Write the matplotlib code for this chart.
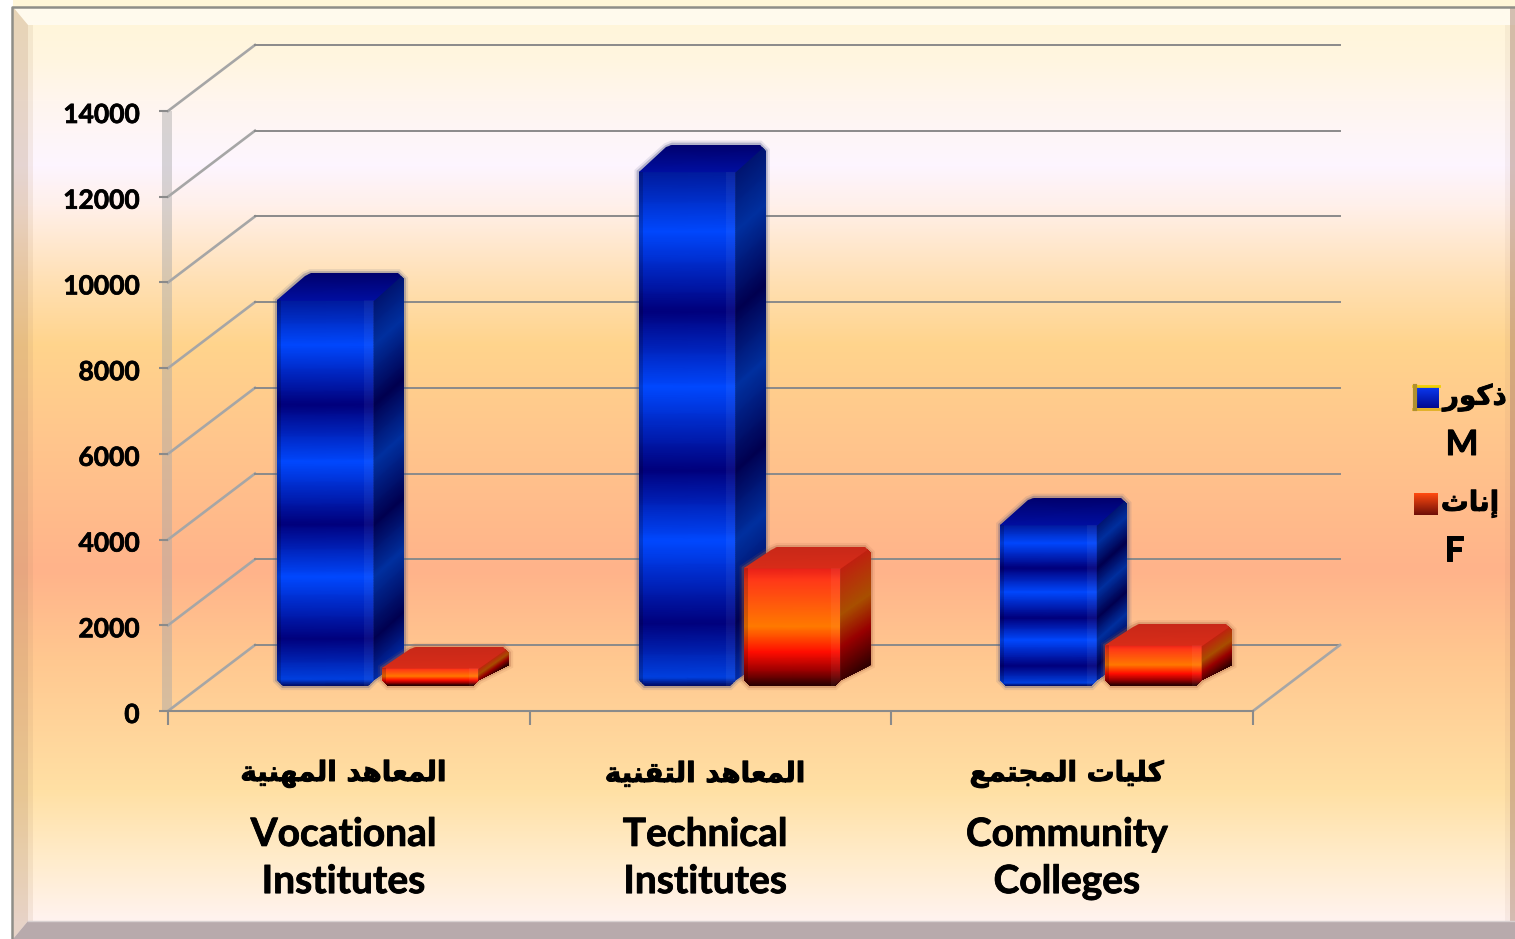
import numpy as np
import matplotlib
matplotlib.use('Agg')
import matplotlib.pyplot as plt
import matplotlib.patheffects as pe
from matplotlib.colors import LinearSegmentedColormap, to_rgb
from matplotlib.patches import Polygon
from matplotlib.transforms import ScaledTranslation

W, H = 1515, 939

# data
categories_ar = ['المعاهد المهنية', 'المعاهد التقنية', 'كليات المجتمع']
categories_en = ['Vocational\nInstitutes', 'Technical\nInstitutes', 'Community\nColleges']
males = [9000, 12000, 3760]
females = [420, 2750, 950]
y_ticks = [0, 2000, 4000, 6000, 8000, 10000, 12000, 14000]
legend_ar = ['ذكور', 'إناث']
legend_en = ['M', 'F']

# matplotlib does no arabic shaping, so pick the presentation forms by hand
FORMS = {
    'ا': (0xFE8D, 0xFE8E), 'إ': (0xFE87, 0xFE88), 'د': (0xFEA9, 0xFEAA),
    'ذ': (0xFEAB, 0xFEAC), 'ر': (0xFEAD, 0xFEAE), 'و': (0xFEED, 0xFEEE),
    'ة': (0xFE93, 0xFE94),
    'ت': (0xFE95, 0xFE96, 0xFE97, 0xFE98), 'ث': (0xFE99, 0xFE9A, 0xFE9B, 0xFE9C),
    'ج': (0xFE9D, 0xFE9E, 0xFE9F, 0xFEA0), 'ع': (0xFEC9, 0xFECA, 0xFECB, 0xFECC),
    'ق': (0xFED5, 0xFED6, 0xFED7, 0xFED8), 'ك': (0xFED9, 0xFEDA, 0xFEDB, 0xFEDC),
    'ل': (0xFEDD, 0xFEDE, 0xFEDF, 0xFEE0), 'م': (0xFEE1, 0xFEE2, 0xFEE3, 0xFEE4),
    'ن': (0xFEE5, 0xFEE6, 0xFEE7, 0xFEE8), 'ه': (0xFEE9, 0xFEEA, 0xFEEB, 0xFEEC),
    'ي': (0xFEF1, 0xFEF2, 0xFEF3, 0xFEF4),
}


def shape(text):
    out = []
    for i, c in enumerate(text):
        if c not in FORMS:
            out.append(c)
            continue
        prev = text[i - 1] if i > 0 else ' '
        nxt = text[i + 1] if i + 1 < len(text) else ' '
        from_right = prev in FORMS and len(FORMS[prev]) == 4
        to_left = nxt in FORMS and len(FORMS[c]) == 4
        if from_right and to_left:
            code = FORMS[c][3]
        elif from_right:
            code = FORMS[c][1]
        elif to_left:
            code = FORMS[c][2]
        else:
            code = FORMS[c][0]
        out.append(chr(code))
    return ''.join(out)[::-1]


def gradient(stops, n=H):
    pos = [s[0] for s in stops]
    cols = np.array([to_rgb(s[1]) for s in stops])
    ys = np.arange(n)
    return np.stack([np.interp(ys, pos, cols[:, k]) for k in range(3)], axis=1)


def heavy(width=0.5):
    return [pe.withStroke(linewidth=width, foreground='black')]


fig = plt.figure(figsize=(W / 100, H / 100), dpi=100, facecolor='white')

# background panel, in pixel coordinates
bg = fig.add_axes([0, 0, 1, 1])
bg.set_xlim(0, W)
bg.set_ylim(H, 0)
bg.axis('off')
grad = gradient([(7, '#fff6d8'), (60, '#fff5e0'), (100, '#fff6ee'), (165, '#fdf5ff'),
                 (205, '#fff0ea'), (280, '#ffe0b4'), (345, '#ffd48c'), (450, '#ffc48c'),
                 (570, '#ffb38a'), (660, '#ffc890'), (790, '#ffe0a4'), (860, '#ffeccc'),
                 (921, '#fff3f0')])
bg.imshow(grad[:, None, :], extent=[13, W, H, 0], aspect='auto', zorder=0)
bg.set_xlim(0, W)
bg.set_ylim(H, 0)
bg.add_patch(Polygon([(13, 7), (W, 7), (W, 25), (28, 25)], fc='#ffffff', alpha=0.55, ec='none', zorder=1))
bg.add_patch(Polygon([(13, 7), (28, 25), (28, 921), (13, 939)], fc='#b08a6a', alpha=0.3, ec='none', zorder=1))
bg.add_patch(Polygon([(28, 25), (33, 25), (33, 921), (28, 921)], fc='#b08a6a', alpha=0.13, ec='none', zorder=1))
bg.add_patch(Polygon([(1510, 7), (W, 7), (W, 921), (1510, 921)], fc='#a07868', alpha=0.45, ec='none', zorder=1))
bg.add_patch(Polygon([(1505, 25), (1510, 25), (1510, 921), (1505, 921)], fc='#a07868', alpha=0.08, ec='none', zorder=1))
bg.add_patch(Polygon([(28, 921), (W, 921), (W, 939), (13, 939)], fc='#b8aaac', ec='none', zorder=2))
bg.plot([28, W], [921, 921], color='#d8d0d0', lw=1, zorder=2)
bg.plot([12, 12, W], [H, 6.5, 6.5], color='#8e8e88', lw=1.8, zorder=3)

# the chart itself, axes box = front plane of the 3D box
ax = fig.add_axes([168 / W, 1 - 711 / H, 1085 / W, 600 / H])
ax.patch.set_alpha(0)
PX_X = 1085 / 3
PX_Y = 600 / 14000
WALL_DX = 87 / PX_X
WALL_DY = 66 / PX_Y
BASE_DY = 25 / PX_Y
BAR_W = 97 / PX_X
BAR_DX = 30 / PX_X
BLUE_DY = 27 / PX_Y
RED_DY = 21 / PX_Y
BLUE_X = 109 / PX_X
RED_X = 214 / PX_X

GRID = '#8a8a8a'
SLANT = '#a6a6a6'
for v in y_ticks:
    ax.plot([0, WALL_DX], [v, v + WALL_DY], color=SLANT, lw=1.9, clip_on=False, zorder=1)
    ax.plot([WALL_DX, 3 + WALL_DX], [v + WALL_DY, v + WALL_DY], color=GRID, lw=1.4, clip_on=False, zorder=1)
ax.plot([3, 3 + WALL_DX], [0, WALL_DY], color=SLANT, lw=1.9, clip_on=False, zorder=1)
# thin left wall
ax.fill_betweenx([0, 14000], -6 / PX_X, 4 / PX_X, color='#a8a8a8', alpha=0.45, lw=0, clip_on=False, zorder=1)

blue_front = LinearSegmentedColormap.from_list('bf', [
    (0, '#001a9c'), (.115, '#0048ff'), (.27, '#00007c'), (.42, '#0048ff'), (.58, '#00007c'),
    (.72, '#0048ff'), (.88, '#00007c'), (.985, '#0040e0'), (1, '#000a60')])
blue_side = LinearSegmentedColormap.from_list('bs', [
    (0, '#001470'), (.115, '#0030a0'), (.27, '#000050'), (.42, '#0030a0'), (.58, '#000050'),
    (.72, '#0030a0'), (.88, '#000050'), (1, '#0030b0')])
blue_top = LinearSegmentedColormap.from_list('bt', ['#000ea0', '#00006c'])
red_front = LinearSegmentedColormap.from_list('rf', [
    (0, '#e82018'), (.1, '#ff3818'), (.5, '#ff7a00'), (.72, '#ff0c00'), (.87, '#a00000'), (1, '#2c0000')])
red_side = LinearSegmentedColormap.from_list('rs', [
    (0, '#c02010'), (.4, '#a85000'), (.68, '#980000'), (1, '#300000')])
red_top = LinearSegmentedColormap.from_list('rt', ['#d82c18', '#c82818'])


def draw_bar(left, value, front, side, top, halo, dy, z):
    x0, x1 = left, left + BAR_W
    y0, y1 = BASE_DY, BASE_DY + value
    dx = BAR_DX
    cx, cy = 6 / PX_X, 6 / PX_Y
    outline = [(x0 + cx, y0), (x1 - cx, y0), (x1, y0 + cy), (x1 + dx, y0 + dy), (x1 + dx, y1 + dy - cy),
               (x1 + dx - cx, y1 + dy), (x0 + dx + cx * 0.6, y1 + dy), (x0 + dx - cx * 0.4, y1 + dy - cy * 0.4),
               (x0, y1), (x0, y0 + cy)]
    ax.add_patch(Polygon(outline, fc='none', ec=halo, lw=6, alpha=0.12, zorder=z))
    ax.add_patch(Polygon(outline, fc='none', ec=halo, lw=3, alpha=0.3, zorder=z))

    t = np.linspace(0, 1, 240)[:, None]
    # front face
    X = np.array([[x0, x1]] * 240)
    Y = y1 - t * value * np.ones((1, 2))
    clip = Polygon([(x0, y1), (x1, y1), (x1, y0 + cy), (x1 - cx, y0), (x0 + cx, y0), (x0, y0 + cy)],
                   transform=ax.transData)
    m = ax.pcolormesh(X, Y, t * np.ones((1, 2)), cmap=front, vmin=0, vmax=1, shading='gouraud', zorder=z + 1)
    m.set_clip_path(clip)
    # side face, same bands pushed back
    X = x1 + np.array([[0, dx]] * 240)
    Y = y1 - t * value + np.array([[0, dy]])
    m = ax.pcolormesh(X, Y, t * np.ones((1, 2)), cmap=side, vmin=0, vmax=1, shading='gouraud', zorder=z + 1)
    m.set_clip_path(Polygon(outline, transform=ax.transData))
    # top face
    u = np.array([[0.0], [1.0]])
    X = np.array([[x0, x1], [x0 + dx, x1 + dx]])
    Y = np.array([[y1, y1], [y1 + dy, y1 + dy]])
    m = ax.pcolormesh(X, Y, u * np.ones((1, 2)), cmap=top, vmin=0, vmax=1, shading='gouraud', zorder=z + 1)
    m.set_clip_path(Polygon(outline, transform=ax.transData))
    # lighter strip at the right of the front, darker at the left
    strip = ax.fill_between([x1 - 10 / PX_X, x1], y0, y1, color='white', alpha=0.05, lw=0, zorder=z + 2)
    strip.set_clip_path(clip)
    strip = ax.fill_between([x0, x0 + 4 / PX_X], y0, y1, color='black', alpha=0.18, lw=0, zorder=z + 2)
    strip.set_clip_path(clip)


for i in range(3):
    draw_bar(i + BLUE_X, males[i], blue_front, blue_side, blue_top, '#404c80', BLUE_DY, 3 + 4 * i)
    draw_bar(i + RED_X, females[i], red_front, red_side, red_top, '#a86040', RED_DY, 5 + 4 * i)

ax.set_xlim(0, 3)
ax.set_ylim(0, 14000)
for s in ['top', 'right', 'left']:
    ax.spines[s].set_visible(False)
ax.spines['bottom'].set_color(GRID)
ax.spines['bottom'].set_linewidth(1.5)
ax.spines['bottom'].set_zorder(2)
ax.set_xticks([0, 1, 2, 3])
ax.set_xticklabels([])
ax.tick_params(axis='x', length=10, width=1.5, color=GRID)
ax.set_yticks(y_ticks)
ax.set_yticklabels([str(v) for v in y_ticks], fontfamily='Lato', fontweight='bold', fontsize=19)
ax.tick_params(axis='y', length=6.5, width=1.5, color=GRID, pad=14)
shift = ScaledTranslation(0, -2 / 100, fig.dpi_scale_trans)
for lab in ax.get_yticklabels():
    lab.set_transform(lab.get_transform() + shift)
    lab.set_path_effects(heavy(0.5))

# category labels
for i in range(3):
    xc = i + 0.485
    ax.annotate(shape(categories_ar[i]), (xc, 0), xytext=(0, -63 / 100 * 72), textcoords='offset points',
                ha='center', va='center', fontfamily='DejaVu Sans', fontweight='bold', fontsize=20,
                annotation_clip=False, path_effects=heavy(0.7))
    ax.annotate(categories_en[i], (xc, 0), xytext=(0, -147 / 100 * 72), textcoords='offset points',
                ha='center', va='center', fontfamily='Lato', fontweight='bold', fontsize=28,
                linespacing=1.42, annotation_clip=False, path_effects=heavy(0.6))

# legend
swatch_y = [(387, 408), (493, 515)]
swatch_cols = [('#0a38f0', '#000a90'), ('#ff4a10', '#701008')]
swatch_x = [(1417, 1439), (1414, 1438)]
label_x = [1475, 1470]
en_x = [1462, 1454]
en_y = [445, 551]
for k in range(2):
    c0, c1 = swatch_cols[k]
    g = gradient([(0, c0), (20, c1)], 21)
    bg.imshow(g[:, None, :], extent=[swatch_x[k][0], swatch_x[k][1], swatch_y[k][1], swatch_y[k][0]],
              aspect='auto', zorder=4)
    bg.text(label_x[k], (swatch_y[k][0] + swatch_y[k][1]) / 2, shape(legend_ar[k]), ha='center', va='center',
            fontfamily='DejaVu Sans', fontweight='bold', fontsize=20, zorder=5, path_effects=heavy(0.6))
    bg.text(en_x[k], en_y[k], legend_en[k], ha='center', va='center',
            fontfamily='Lato', fontweight='bold', fontsize=25, zorder=5, path_effects=heavy(0.7))
bg.plot([1413, 1439], [386, 386], color='#f0d000', lw=2, zorder=5)
bg.plot([1413, 1439], [409, 409], color='#e0b020', lw=2, zorder=5)
bg.plot([1414.5, 1414.5], [386, 409], color='#b09030', lw=3, zorder=5)
bg.set_xlim(0, W)
bg.set_ylim(H, 0)

fig.savefig('out.png', dpi=100)
